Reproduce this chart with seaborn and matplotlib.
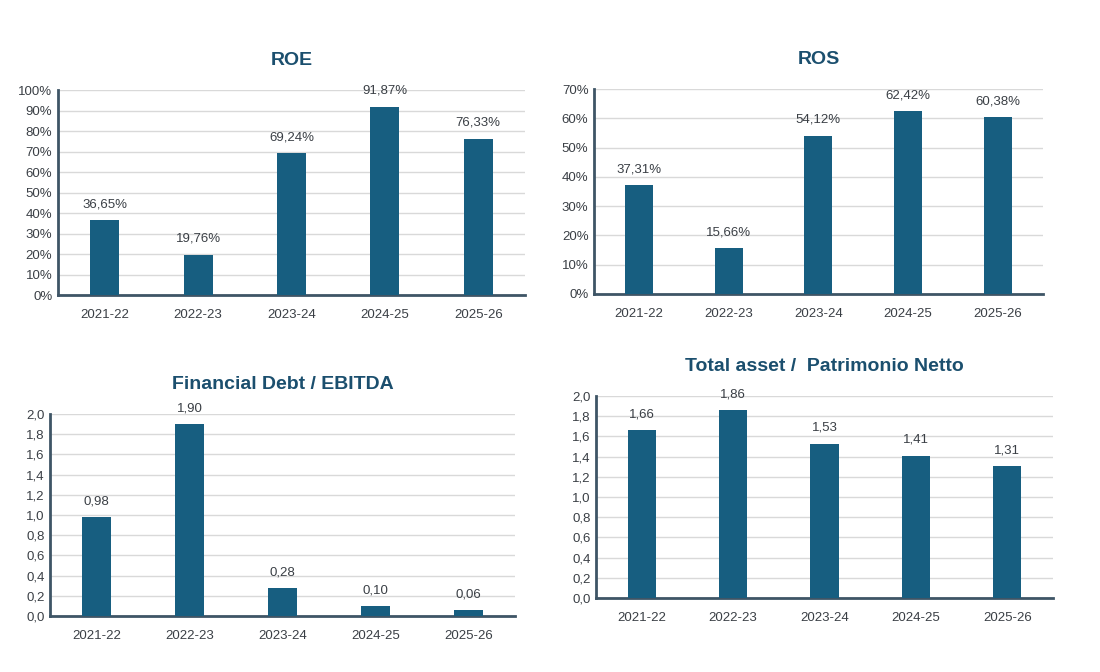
import pandas as pd
import seaborn as sns
import matplotlib.pyplot as plt
from matplotlib.ticker import FuncFormatter

# Data
years = ['2021-22', '2022-23', '2023-24', '2024-25', '2025-26']
roe = [36.65, 19.76, 69.24, 91.87, 76.33]
ros = [37.31, 15.66, 54.12, 62.42, 60.38]
debt_ebitda = [0.98, 1.90, 0.28, 0.10, 0.06]
asset_pn = [1.66, 1.86, 1.53, 1.41, 1.31]

bar_color = '#175E80'
title_color = '#1B4F6E'
text_color = '#3A3F45'
spine_color = '#3E5566'

sns.set_theme(style='white')
plt.rcParams['font.family'] = ['Liberation Sans Narrow', 'Liberation Sans', 'DejaVu Sans']

fig = plt.figure(figsize=(11, 6.72), dpi=100)

panels = [
    ('ROE', roe, [0.0527, 0.561, 0.4245, 0.305], 100, 10, True),
    ('ROS', ros, [0.540, 0.5625, 0.408, 0.305], 70, 10, True),
    ('Financial Debt / EBITDA', debt_ebitda, [0.0455, 0.0833, 0.4227, 0.3006], 2.0, 0.2, False),
    ('Total asset /  Patrimonio Netto', asset_pn, [0.5418, 0.110, 0.4155, 0.3006], 2.0, 0.2, False),
]

for title, values, pos, ymax, step, pct in panels:
    ax = fig.add_axes(pos)
    df = pd.DataFrame({'Year': years, 'Value': values})
    sns.barplot(data=df, x='Year', y='Value', color=bar_color, width=0.31,
                saturation=1, linewidth=0, ax=ax, zorder=3)
    ax.set_ylim(0, ymax)
    n = int(round(ymax / step))
    ax.set_yticks([i * step for i in range(n + 1)])
    if pct:
        ax.yaxis.set_major_formatter(FuncFormatter(lambda v, p: f'{v:.0f}%'))
        labels = [f'{v:.2f}%'.replace('.', ',') for v in values]
    else:
        ax.yaxis.set_major_formatter(FuncFormatter(lambda v, p: f'{v:.1f}'.replace('.', ',')))
        labels = [f'{v:.2f}'.replace('.', ',') for v in values]
    ax.bar_label(ax.containers[0], labels=labels, padding=7, fontsize=9.5, color=text_color)
    ax.grid(axis='y', color='#D9D9D9', linewidth=1, zorder=0)
    ax.set_axisbelow(True)
    for s in ['top', 'right']:
        ax.spines[s].set_visible(False)
    for s in ['left', 'bottom']:
        ax.spines[s].set_color(spine_color)
        ax.spines[s].set_linewidth(2)
    ax.set_xlabel('')
    ax.set_ylabel('')
    ax.tick_params(axis='both', length=0, labelsize=9.5, colors=text_color)
    ax.tick_params(axis='x', pad=10)
    ax.tick_params(axis='y', pad=4)
    ax.set_title(title, fontsize=14, fontweight='bold', color=title_color, pad=18)

plt.savefig('out.png', dpi=100)
